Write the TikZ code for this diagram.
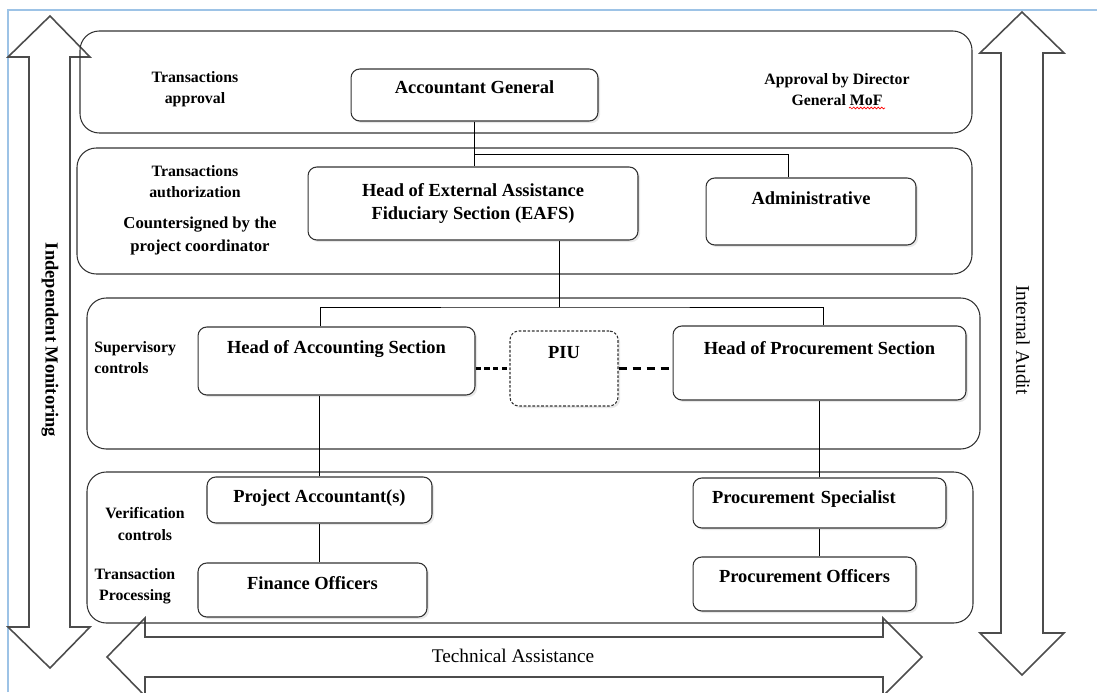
\documentclass[tikz,border=0pt]{standalone}
\usepackage{fontspec}
\setmainfont{Liberation Serif}
\usepackage{tikz}
\usetikzlibrary{shadows,decorations.pathmorphing}
\definecolor{pageedge}{HTML}{9DC3E6}
\tikzstyle{rowbox} = [draw=black!80, line width=0.6pt, rounded corners=11pt]
\tikzstyle{unitbox} = [draw=black!80, fill=white, line width=0.6pt,
    rectangle, rounded corners=5pt, inner sep=2pt,
    font=\fontsize{10.5}{13}\selectfont\bfseries,
    drop shadow={shadow xshift=1.2pt, shadow yshift=-1.2pt, opacity=0.18}]
\tikzstyle{sidenote} = [font=\fontsize{9}{12}\selectfont\bfseries, align=center, inner sep=0pt]
\tikzstyle{bigarrow} = [draw=black!70, line width=0.9pt, line join=miter]
\tikzstyle{bandtext} = [font=\fontsize{11}{13}\selectfont, inner sep=0pt]
\tikzstyle{link} = [draw=black, line width=0.5pt]

\begin{document}
\begin{tikzpicture}[x=0.02cm, y=-0.02cm]
\useasboundingbox (0,0) rectangle (1097,692);
\draw[pageedge, line width=0.8pt] (8,692) -- (8,10) -- (1097,10);

% the three wide arrows round the chart
\draw[bigarrow] (50,16) -- (90,57) -- (70,57) -- (70,627) -- (90,627) -- (50,668)
    -- (8,627) -- (29,627) -- (29,57) -- (8,57) -- cycle;
\draw[bigarrow] (1022,12) -- (1064,53) -- (1043,53) -- (1043,633) -- (1064,633) -- (1022,675)
    -- (980,633) -- (1001,633) -- (1001,53) -- (980,53) -- cycle;
\draw[bigarrow] (107,657) -- (145,618) -- (145,637) -- (883,637) -- (883,618) -- (922,657)
    -- (883,696) -- (883,677) -- (145,677) -- (145,696) -- cycle;
\node[bandtext, font=\fontsize{10.5}{13}\selectfont\bfseries, rotate=-90] (monitor) at (50,340) {Independent Monitoring};
\node[bandtext, rotate=-90] (audit) at (1023,340) {Internal Audit};
\node[bandtext] (techhelp) at (513,656) {Technical Assistance};

% control levels
\draw[rowbox] (80,31) rectangle (972,133);
\draw[rowbox] (77,148) rectangle (972,274);
\draw[rowbox] (87,298) rectangle (980,449);
\draw[rowbox] (87,472) rectangle (973,623);

\node[sidenote] (approval) at (195,89) {Transactions\\approval};
\node[sidenote] (dgmof) at (837,90) {Approval by Director\\General MoF};
\draw[red, line width=0.4pt, decorate, decoration={snake, amplitude=0.5pt, segment length=2pt}] (849,108) -- (885,108);
\node[sidenote] (authorize) at (195,182) {Transactions\\authorization};
\node[sidenote, font=\fontsize{9.5}{13}\selectfont\bfseries] (countersign) at (200,236) {Countersigned by the\\project coordinator};
\node[sidenote, align=left, anchor=west] (supervise) at (94,358) {Supervisory\\controls};
\node[sidenote] (verify) at (145,524) {Verification\\controls};
\node[sidenote] (process) at (135,586) {Transaction\\Processing};

% units
\node[unitbox, minimum width=4.94cm, minimum height=1.04cm, text depth=9pt] (acg) at (474.5,95) {Accountant General};
\node[unitbox, minimum width=6.6cm, minimum height=1.46cm, align=center] (eafs) at (473,203.5) {Head of External Assistance\\Fiduciary Section (EAFS)};
\node[unitbox, minimum width=4.2cm, minimum height=1.34cm, text depth=15pt] (admin) at (811,211.5) {Administrative};
\node[unitbox, minimum width=5.54cm, minimum height=1.36cm, text depth=16pt] (hacc) at (336.5,361) {Head of Accounting Section};
\node[unitbox, dash pattern=on 1.5pt off 1pt, minimum width=2.16cm, minimum height=1.5cm, text depth=18pt] (piu) at (564,368.5) {PIU};
\node[unitbox, minimum width=5.86cm, minimum height=1.48cm, text depth=17pt] (hproc) at (819.5,363) {Head of Procurement Section};
\node[unitbox, minimum width=4.5cm, minimum height=0.92cm, text depth=4pt] (pacc) at (319.5,500) {Project Accountant(s)};
\node[unitbox, minimum width=4.58cm, minimum height=1.08cm, text depth=8pt] (fin) at (312.5,590) {Finance Officers};
\node[unitbox, minimum width=5.06cm, minimum height=1cm, text depth=7pt, align=left, text width=4.3cm, inner xsep=0.38cm] (pspec) at (819.5,503) {Procurement Specialist};
\node[unitbox, minimum width=4.46cm, minimum height=1.08cm, text depth=9pt] (poff) at (804.5,584) {Procurement Officers};

% reporting lines
\coordinate (agsplit) at (474.5,154);
\coordinate (esplit) at (559,307);
\draw[link] (acg) -- (acg |- eafs.north);
\draw[link] (agsplit) -| ([xshift=-0.46cm]admin.north);
\draw[link] (eafs.south -| esplit) -- (esplit);
\draw[link] ([xshift=-0.33cm]hacc.north) |- (esplit) -| ([xshift=0.07cm]hproc.north);
\draw[link] (pacc.north) -- (pacc.north |- hacc.south);
\draw[link] (pacc.south) -- (pacc.south |- fin.north);
\draw[link] (pspec.north) -- (pspec.north |- hproc.south);
\draw[link] (pspec.south) -- (pspec.south |- poff.north);
\draw[link, line width=1.2pt, dash pattern=on 3pt off 2pt] (hacc.east |- piu.west) -- (piu.west);
\draw[link, line width=1.8pt, dash pattern=on 5pt off 3pt] (piu.east) -- (piu.east -| hproc.west);
\end{tikzpicture}
\end{document}
